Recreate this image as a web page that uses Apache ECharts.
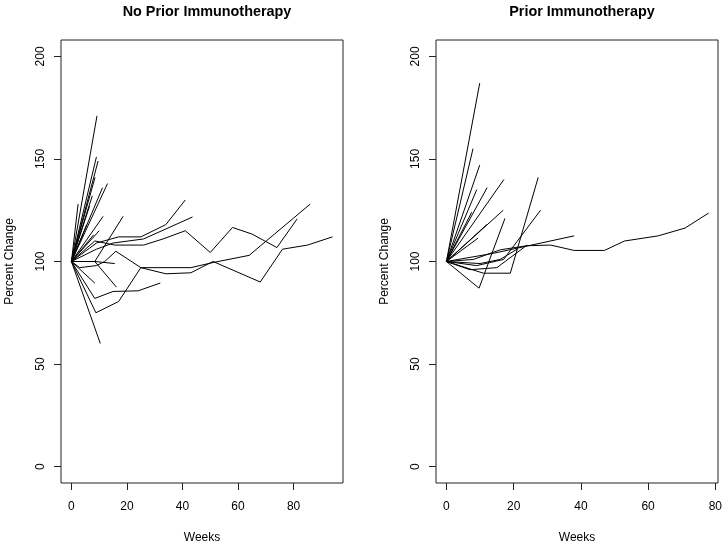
<!DOCTYPE html>
<html>
<head>
<meta charset="utf-8">
<script src="https://cdn.jsdelivr.net/npm/echarts@6/dist/echarts.min.js"></script>
<style>html,body{margin:0;padding:0;background:#fff}#c{width:727px;height:546px}</style>
</head>
<body>
<div id="c"></div>
<script>
// ---- data ----
const panelTitles = ["No Prior Immunotherapy", "Prior Immunotherapy"];
const xTicks = [0, 20, 40, 60, 80];
const yTicks = [0, 50, 100, 150, 200];
const xAxisName = "Weeks";
const yAxisName = "Percent Change";

// each entry: one patient's trajectory as [week, percent change]
const noPriorLines = [
  [[0,100],[9.2,171]],
  [[0,100],[9.0,151]],
  [[0,100],[9.6,149]],
  [[0,100],[13,138]],
  [[0,100],[11.2,136]],
  [[0,100],[2.4,128]],
  [[0,100],[6.5,127]],
  [[0,100],[7.5,132]],
  [[0,100],[8.5,141]],
  [[0,100],[11.4,122]],
  [[0,100],[10,115]],
  [[0,100],[8,113]],
  [[0,100],[5.5,118]],
  [[0,100],[10.4,60]],
  [[0,100],[8.4,89.5]],
  [[0,100],[8.4,100],[16.2,87.5]],
  [[0,100],[8.4,100],[15.6,99]],
  [[0,100],[8.4,100],[18.6,122]],
  [[0,100],[3,97],[9,98],[12,100],[16,105],[25,97],[43,97],[51,99.5],[64,103],[86,128]],
  [[0,100],[8.8,75],[17,80.5],[25,97],[34,94],[43,94.5],[51,100],[68,90],[76,106],[85,108],[94,112]],
  [[0,100],[8.4,82],[15,85.4],[24,85.7],[32,89.5]],
  [[0,100],[8.4,110],[15.6,108],[26,108],[33,111],[41,115],[50,104.4],[58,116.6],[65,113.4],[74,106.8],[81.3,120.8]],
  [[0,100],[9,109],[17,112],[25,112],[34,118],[41,130]],
  [[0,100],[9,106],[15,109],[26,111],[43.6,121.7]]
];

const priorLines = [
  [[0,100],[9.9,187]],
  [[0,100],[7.9,155]],
  [[0,100],[9.9,147]],
  [[0,100],[17.1,140]],
  [[0,100],[12.1,136]],
  [[0,100],[9,135]],
  [[0,100],[7.5,124]],
  [[0,100],[16.9,125]],
  [[0,100],[9.4,111.4]],
  [[0,100],[12,118]],
  [[0,100],[9.7,87],[17.4,121]],
  [[0,100],[11,94.3],[19,94.3],[27.3,141]],
  [[0,100],[9,98],[17,101],[28,125]],
  [[0,100],[14,104],[38,112.5]],
  [[0,100],[8,101],[16,105.7],[24,107.7],[31,108],[38,105.4],[47,105.4],[53,110],[63,112.5],[71,116.3],[78,123.6]],
  [[0,100],[7,96],[15,97],[24,108]],
  [[0,100],[10,99],[16,101],[21,106]]
];

// ---- chart ----
const FONT = "'Liberation Sans', Arial, Helvetica, sans-serif";
const BOX = '#222';
const chart = echarts.init(document.getElementById('c'), null, {renderer: 'canvas'});

function xAxisCfg(idx, min, max) {
  return {
    type: 'value', gridIndex: idx, min: min, max: max, position: 'bottom',
    name: xAxisName, nameLocation: 'middle', nameGap: 49,
    nameTextStyle: {fontFamily: FONT, fontSize: 12, color: '#000'},
    axisLine: {show: false, onZero: false},
    splitLine: {show: false},
    axisTick: {show: true, inside: false, length: 7, customValues: xTicks, lineStyle: {color: BOX, width: 1}},
    axisLabel: {show: true, margin: 18, customValues: xTicks, fontFamily: FONT, fontSize: 12, color: '#000'}
  };
}
function yAxisCfg(idx) {
  return {
    type: 'value', gridIndex: idx, min: -8, max: 208, position: 'left',
    name: yAxisName, nameLocation: 'middle', nameGap: 45, nameRotate: 90,
    nameTextStyle: {fontFamily: FONT, fontSize: 12, color: '#000'},
    axisLine: {show: false, onZero: false},
    splitLine: {show: false},
    axisTick: {show: true, inside: false, length: 7, customValues: yTicks, lineStyle: {color: BOX, width: 1}},
    axisLabel: {show: true, margin: 14, rotate: 90, customValues: yTicks, fontFamily: FONT, fontSize: 12, color: '#000'}
  };
}

const series = [];
noPriorLines.forEach(pts => series.push({
  type: 'line', xAxisIndex: 0, yAxisIndex: 0, data: pts, showSymbol: false, symbol: 'none',
  lineStyle: {color: '#000', width: 1}, silent: true
}));
priorLines.forEach(pts => series.push({
  type: 'line', xAxisIndex: 1, yAxisIndex: 1, data: pts, showSymbol: false, symbol: 'none',
  lineStyle: {color: '#000', width: 1}, silent: true
}));

chart.setOption({
  animation: false,
  backgroundColor: '#fff',
  title: [
    {text: panelTitles[0], left: 202, top: 0, textAlign: 'center',
     textStyle: {fontFamily: FONT, fontSize: 14.4, fontWeight: 'bold', color: '#000'}},
    {text: panelTitles[1], left: 577, top: 0, textAlign: 'center',
     textStyle: {fontFamily: FONT, fontSize: 14.4, fontWeight: 'bold', color: '#000'}}
  ],
  grid: [
    {left: 61, right: 384, top: 40, bottom: 63, show: true, borderColor: BOX, borderWidth: 1, backgroundColor: 'transparent',
     containLabel: false, outerBoundsMode: 'none'},
    {left: 436, right: 9, top: 40, bottom: 63, show: true, borderColor: BOX, borderWidth: 1, backgroundColor: 'transparent',
     containLabel: false, outerBoundsMode: 'none'}
  ],
  xAxis: [xAxisCfg(0, -3.76, 97.8), xAxisCfg(1, -3.11, 80.8)],
  yAxis: [yAxisCfg(0), yAxisCfg(1)],
  series: series
});
</script>
</body>
</html>
